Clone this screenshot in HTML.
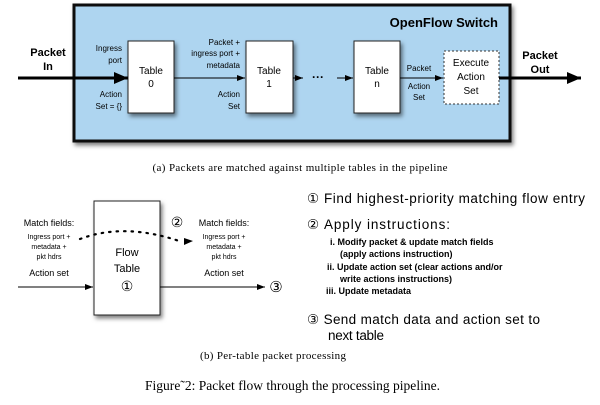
<!DOCTYPE html>
<html><head><style>
body{margin:0;width:600px;height:400px;background:#fff;overflow:hidden}
svg text{font-family:"Liberation Sans",sans-serif}
.s{font-family:"Liberation Serif",serif !important}
</style></head><body>
<svg width="600" height="400" viewBox="0 0 600 400">
<defs>
<marker id="a" markerWidth="8" markerHeight="6" refX="8" refY="3" orient="auto" markerUnits="userSpaceOnUse"><path d="M0,0L8,3L0,6z" fill="#000"/></marker>
<marker id="b" markerWidth="14" markerHeight="12" refX="14" refY="6" orient="auto" markerUnits="userSpaceOnUse"><path d="M0,0L14,6L0,12z" fill="#000"/></marker>
<filter id="sh" x="-20%" y="-20%" width="150%" height="150%"><feDropShadow dx="2" dy="3" stdDeviation="2" flood-opacity="0.5"/></filter>
</defs>
<rect x="74" y="5" width="436" height="136" fill="#aed5f0" stroke="#111" stroke-width="3" filter="url(#sh)"/>
<text x="498" y="27" text-anchor="end" font-size="13" font-weight="bold">OpenFlow Switch</text>
<rect x="128" y="41" width="46" height="72" fill="#fff" stroke="#222" filter="url(#sh)"/>
<rect x="246" y="41" width="47" height="72" fill="#fff" stroke="#222" filter="url(#sh)"/>
<rect x="354" y="41" width="46" height="72" fill="#fff" stroke="#222" filter="url(#sh)"/>
<rect x="444" y="51" width="55" height="53" fill="#fff" stroke="#333" stroke-dasharray="2,2"/>
<g font-size="10" text-anchor="middle">
<text x="151" y="74">Table</text><text x="151" y="87">0</text>
<text x="269" y="74">Table</text><text x="269" y="87">1</text>
<text x="377" y="74">Table</text><text x="377" y="87">n</text>
<text x="471" y="66">Execute</text><text x="471" y="80">Action</text><text x="471" y="94">Set</text>
</g>
<line x1="18" y1="78" x2="128" y2="78" stroke="#000" stroke-width="3" marker-end="url(#b)"/>
<line x1="174" y1="78" x2="245" y2="78" stroke="#000" marker-end="url(#a)"/>
<line x1="293" y1="78" x2="303" y2="78" stroke="#000" marker-end="url(#a)"/>
<text x="318" y="81" font-size="12" text-anchor="middle" font-weight="bold">···</text>
<line x1="337" y1="78" x2="353" y2="78" stroke="#000" marker-end="url(#a)"/>
<line x1="400" y1="78" x2="443" y2="78" stroke="#000" marker-end="url(#a)"/>
<line x1="499" y1="78" x2="581" y2="78" stroke="#000" stroke-width="3" marker-end="url(#b)"/>
<g font-size="11" font-weight="bold" text-anchor="middle">
<text x="48" y="56">Packet</text><text x="48" y="70">In</text>
<text x="540" y="59">Packet</text><text x="540" y="73">Out</text>
</g>
<g font-size="8" text-anchor="end">
<text x="122" y="51">Ingress</text><text x="122" y="63">port</text>
<text x="122" y="97">Action</text><text x="122" y="109">Set = {}</text>
<text x="240" y="45">Packet +</text><text x="240" y="56">ingress port +</text><text x="240" y="68">metadata</text>
<text x="240" y="97">Action</text><text x="240" y="109">Set</text>
</g>
<g font-size="8" text-anchor="middle">
<text x="419" y="71">Packet</text><text x="419" y="89">Action</text><text x="419" y="100">Set</text>
</g>
<text x="300" y="171" class="s" font-size="11" text-anchor="middle" textLength="295">(a) Packets are matched against multiple tables in the pipeline</text>
<rect x="94" y="201" width="66" height="114" fill="#fff" stroke="#222" filter="url(#sh)"/>
<g font-size="11" text-anchor="middle">
<text x="127" y="256">Flow</text><text x="127" y="272">Table</text><text x="127" y="291" font-size="14">①</text>
</g>
<line x1="18" y1="287" x2="93" y2="287" stroke="#000" marker-end="url(#a)"/>
<line x1="160" y1="287" x2="265" y2="287" stroke="#000" marker-end="url(#a)"/>
<text x="276" y="292" font-size="15" text-anchor="middle">③</text>
<path d="M80,239 Q125,222 182,242" fill="none" stroke="#000" stroke-width="2.2" stroke-dasharray="1.5,6" stroke-linecap="round"/>
<path d="M184,238 L193,241 L184,245z" fill="#000"/>
<text x="177" y="227" font-size="14" text-anchor="middle">②</text>
<g text-anchor="middle">
<text x="49" y="226" font-size="9">Match fields:</text>
<text x="49" y="239" font-size="7">Ingress port +</text>
<text x="49" y="249" font-size="7">metadata +</text>
<text x="49" y="259" font-size="7">pkt hdrs</text>
<text x="49" y="276" font-size="9">Action set</text>
<text x="224" y="226" font-size="9">Match fields:</text>
<text x="224" y="239" font-size="7">Ingress port +</text>
<text x="224" y="249" font-size="7">metadata +</text>
<text x="224" y="259" font-size="7">pkt hdrs</text>
<text x="224" y="276" font-size="9">Action set</text>
</g>
<g font-size="13.5">
<text x="307" y="203" textLength="278">① Find highest-priority matching flow entry</text>
<text x="307" y="229" textLength="143">② Apply instructions:</text>
<text x="307" y="324" textLength="233">③ Send match data and action set to</text>
<text x="328" y="340" textLength="56">next table</text>
</g>
<g font-size="9" font-weight="bold">
<text x="330" y="245">i. Modify packet &amp; update match fields</text>
<text x="340" y="257">(apply actions instruction)</text>
<text x="327" y="270">ii. Update action set (clear actions and/or</text>
<text x="340" y="282">write actions instructions)</text>
<text x="326" y="294">iii. Update metadata</text>
</g>
<text x="200" y="359" class="s" font-size="11" textLength="146">(b) Per-table packet processing</text>
<text x="145" y="390" class="s" font-size="13.5" textLength="295">Figure˜2: Packet flow through the processing pipeline.</text>
</svg>
</body></html>
